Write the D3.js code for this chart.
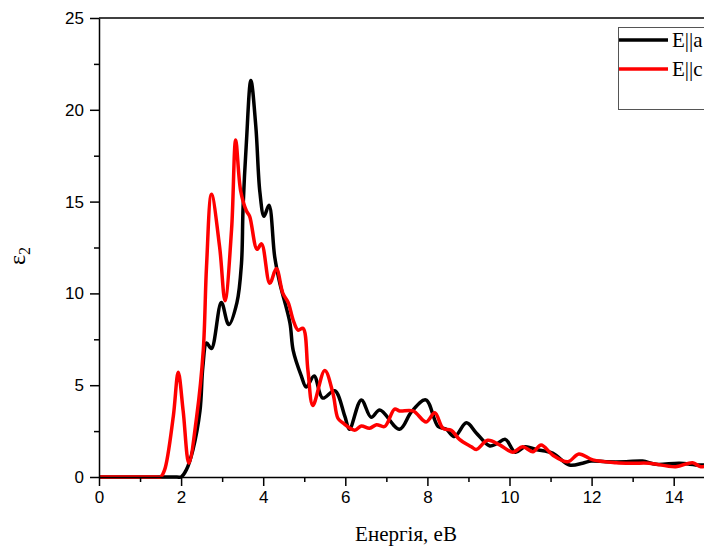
<!DOCTYPE html>
<meta charset="utf-8">
<script src="https://d3js.org/d3.v7.min.js"></script>
<style>
  body { margin: 0; background: #fff; }
</style>
<div id="my_dataviz"></div>
<script>

// E||a (black)
var energyA = [0, 1.0, 1.9, 2.0, 2.13, 2.29, 2.46, 2.53, 2.62, 2.74, 2.98, 3.16, 3.36, 3.47, 3.51, 3.59, 3.70, 3.82, 3.92, 4.02, 4.14, 4.28, 4.40, 4.65, 4.73, 4.93, 5.05, 5.24, 5.45, 5.74, 5.99, 6.10, 6.39, 6.63, 6.84, 7.32, 7.61, 7.96, 8.26, 8.46, 8.66, 8.95, 9.19, 9.51, 9.68, 9.90, 10.14, 10.38, 10.65, 11.05, 11.46, 11.78, 11.99, 12.35, 12.84, 13.24, 13.57, 14.14, 14.63, 15.0, 15.5];
var eps2A   = [0, 0, 0, 0, 0.4, 1.5, 3.6, 6.0, 7.3, 7.0, 9.5, 8.3, 9.5, 11.6, 14.7, 18.2, 21.6, 19.1, 15.5, 14.2, 14.8, 12.0, 10.6, 8.4, 6.9, 5.5, 4.9, 5.5, 4.3, 4.7, 3.3, 2.6, 4.2, 3.25, 3.65, 2.6, 3.55, 4.2, 2.75, 2.6, 2.2, 2.95, 2.4, 1.7, 1.8, 2.05, 1.35, 1.65, 1.5, 1.3, 0.65, 0.75, 0.87, 0.83, 0.83, 0.87, 0.69, 0.75, 0.65, 0.7, 0.6];

// E||c (red)
var energyC = [0, 1.0, 1.4, 1.5, 1.6, 1.81, 1.93, 2.05, 2.19, 2.38, 2.54, 2.62, 2.74, 2.94, 3.07, 3.23, 3.33, 3.45, 3.59, 3.67, 3.85, 3.96, 4.16, 4.32, 4.48, 4.61, 4.73, 4.85, 4.97, 5.09, 5.21, 5.50, 5.70, 5.82, 5.94, 6.23, 6.39, 6.59, 6.76, 6.96, 7.20, 7.32, 7.65, 7.97, 8.18, 8.38, 8.58, 8.78, 9.07, 9.19, 9.47, 9.76, 10.08, 10.32, 10.57, 10.77, 11.05, 11.42, 11.69, 12.03, 12.60, 13.0, 13.4, 14.05, 14.46, 14.66, 15.0, 15.5];
var eps2C   = [0, 0, 0, 0, 0.4, 3.3, 5.7, 3.6, 0.75, 3.3, 6.9, 11.5, 15.4, 12.5, 9.6, 13.5, 18.35, 15.6, 14.5, 14.2, 12.4, 12.7, 10.55, 11.35, 10.0, 9.5, 8.55, 8.0, 8.1, 5.8, 3.9, 5.8, 4.55, 3.2, 2.95, 2.55, 2.78, 2.65, 2.85, 2.75, 3.7, 3.6, 3.6, 3.0, 3.5, 2.65, 2.55, 2.05, 1.65, 1.5, 2.0, 1.75, 1.35, 1.65, 1.38, 1.74, 1.2, 0.83, 1.25, 0.93, 0.78, 0.75, 0.75, 0.56, 0.78, 0.56, 0.7, 0.6];

var xTicks = [0, 2, 4, 6, 8, 10, 12, 14];
var yTicks = [0, 5, 10, 15, 20, 25];
var seriesNames = ["E||a", "E||c"];
var seriesColors = ["#000000", "#ff0000"];

var W = 704, H = 551;
var margin = {top: 18, left: 99, bottom: 74};

var svg = d3.select("#my_dataviz")
  .append("svg")
    .attr("width", W)
    .attr("height", H)
    .style("display", "block");

var x = d3.scaleLinear().domain([0, 16]).range([margin.left, margin.left + 41.05 * 16]);
var y = d3.scaleLinear().domain([0, 25]).range([H - margin.bottom, margin.top]);

// frame: top line (right side is off-picture)
svg.append("line")
  .attr("x1", x(0)).attr("x2", x(16))
  .attr("y1", y(25)).attr("y2", y(25))
  .attr("stroke", "#000").attr("stroke-width", 1.5);

// curves
var line = d3.line()
  .x(function(d) { return x(d[0]); })
  .y(function(d) { return y(d[1]); })
  .curve(d3.curveCatmullRom.alpha(0.5));

var dataA = energyA.map(function(e, i) { return [e, eps2A[i]]; });
var dataC = energyC.map(function(e, i) { return [e, eps2C[i]]; });

svg.append("path")
  .datum(dataA)
  .attr("fill", "none")
  .attr("stroke", seriesColors[0])
  .attr("stroke-width", 3.5)
  .attr("stroke-linejoin", "round")
  .attr("d", line);

svg.append("path")
  .datum(dataC)
  .attr("fill", "none")
  .attr("stroke", seriesColors[1])
  .attr("stroke-width", 3.5)
  .attr("stroke-linejoin", "round")
  .attr("d", line);

// x axis
svg.append("g")
  .attr("transform", "translate(0," + y(0) + ")")
  .call(d3.axisBottom(x).tickValues(xTicks).tickSize(9).tickPadding(5).tickSizeOuter(0));
svg.append("g")
  .attr("transform", "translate(0," + y(0) + ")")
  .call(d3.axisBottom(x).tickValues(d3.range(1, 16, 2)).tickSize(5).tickFormat("").tickSizeOuter(0))
  .select(".domain").remove();

// y axis
svg.append("g")
  .attr("transform", "translate(" + x(0) + ",0)")
  .call(d3.axisLeft(y).tickValues(yTicks).tickSize(9).tickPadding(6).tickSizeOuter(0));
svg.append("g")
  .attr("transform", "translate(" + x(0) + ",0)")
  .call(d3.axisLeft(y).tickValues([2.5, 7.5, 12.5, 17.5, 22.5]).tickSize(5).tickFormat("").tickSizeOuter(0))
  .select(".domain").remove();

svg.selectAll(".domain").attr("stroke-width", 1.5);
svg.selectAll(".tick line").attr("stroke-width", 1.5);
svg.selectAll(".tick text")
  .attr("font-family", "Liberation Sans, Arial, sans-serif")
  .attr("font-size", 17)
  .attr("fill", "#000");

// axis titles
svg.append("text")
  .attr("x", 406).attr("y", 541)
  .attr("text-anchor", "middle")
  .attr("font-family", "Liberation Serif, Times New Roman, serif")
  .attr("font-size", 21)
  .text("Енергія, еВ");

var yl = svg.append("text")
  .attr("transform", "translate(25,256) rotate(-90)")
  .attr("text-anchor", "middle")
  .attr("font-family", "Liberation Serif, Times New Roman, serif")
  .attr("font-size", 24);
yl.append("tspan").text("ε");
yl.append("tspan").attr("font-size", 16).attr("dy", 5).text("2");

// legend (cut by the right border of the picture)
var leg = svg.append("g").attr("transform", "translate(618,27)");
leg.append("rect")
  .attr("x", 0.5).attr("y", 0.5)
  .attr("width", 140).attr("height", 82)
  .attr("fill", "#fff")
  .attr("stroke", "#555").attr("stroke-width", 1);
seriesNames.forEach(function(name, i) {
  var ly = 13 + i * 29;
  leg.append("line")
    .attr("x1", 1).attr("x2", 50)
    .attr("y1", ly).attr("y2", ly)
    .attr("stroke", seriesColors[i]).attr("stroke-width", 3.5);
  leg.append("text")
    .attr("x", 54).attr("y", ly + 7)
    .attr("font-family", "Liberation Serif, Times New Roman, serif")
    .attr("font-size", 21)
    .text(name);
});

</script>
